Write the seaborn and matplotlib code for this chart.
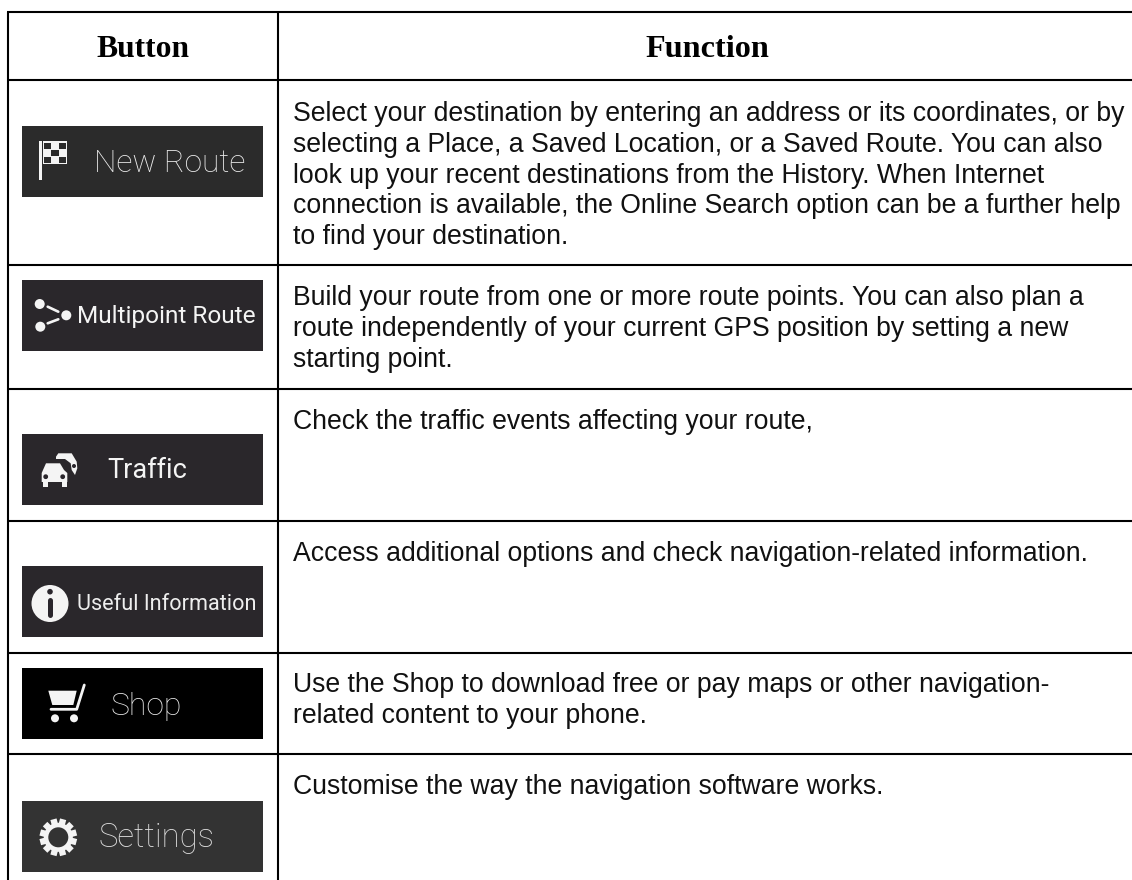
import numpy as np
import pandas as pd
import matplotlib
matplotlib.use("Agg")
import matplotlib.pyplot as plt
import seaborn as sns
from matplotlib.patches import Circle, Polygon, Rectangle, RegularPolygon

# table content
headers = ["Button", "Function"]
button_labels = ["New Route", "Multipoint Route", "Traffic", "Useful Information", "Shop", "Settings"]
button_colors = ["#2b2b2b", "#2a262c", "#2a262c", "#2a262c", "#000000", "#333333"]
label_colors = ["#ececec", "#f4f4f4", "#f4f4f4", "#eeeeee", "#e6e6e6", "#dddddd"]
descriptions = [
    ["Select your destination by entering an address or its coordinates, or by",
     "selecting a Place, a Saved Location, or a Saved Route. You can also",
     "look up your recent destinations from the History. When Internet",
     "connection is available, the Online Search option can be a further help",
     "to find your destination."],
    ["Build your route from one or more route points. You can also plan a",
     "route independently of your current GPS position by setting a new",
     "starting point."],
    ["Check the traffic events affecting your route,"],
    ["Access additional options and check navigation-related information."],
    ["Use the Shop to download free or pay maps or other navigation-",
     "related content to your phone."],
    ["Customise the way the navigation software works."],
]

# layout in pixels
rule_y = [12, 80, 265, 389, 521, 653, 754]
left_x, divider_x = 8, 278
button_left, button_width = 22, 241
button_mid = [161.5, 315.5, 469.5, 602, 703.5, 836.5]
text_base = [121, 305, 429, 561, 692, 794]
label_x = [94, 77, 107, 77, 110, 99]
label_base = [172, 323, 478, 610, 715, 847]
label_size = [22.8, 17.6, 19.5, 15.6, 23, 23.7]
label_weight = ["light", "normal", "normal", "normal", "light", "light"]
line_step = 30.8

sns.set_theme(style="white")
plt.rcParams["font.family"] = ["Liberation Sans", "DejaVu Sans"]

fig, ax = plt.subplots(figsize=(11.32, 8.8), dpi=100)
fig.subplots_adjust(0, 0, 1, 1)

# the dark buttons, as horizontal bars
buttons = pd.DataFrame({"label": button_labels, "mid": button_mid,
                        "w": [button_width] * len(button_labels)})
sns.barplot(data=buttons, x="w", y="mid", hue="label", orient="h", native_scale=True,
            palette=dict(zip(button_labels, button_colors)), left=button_left,
            width=71 / 101.5, linewidth=0, legend=False, ax=ax, dodge=False)
ax.set_xlim(0, 1132)
ax.set_ylim(880, 0)
ax.set_xlabel("")
ax.set_ylabel("")
ax.set_xticks([])
ax.set_yticks([])
sns.despine(ax=ax, left=True, bottom=True)

# table rules
ax.hlines(rule_y, left_x - 1, 1132, color="black", lw=1.5)
ax.vlines([left_x, divider_x], rule_y[0], 880, color="black", lw=1.5)

# header
ax.text(143, 57, headers[0], family="Liberation Serif", weight="bold", fontsize=22.7,
        ha="center", va="baseline", color="black")
ax.text(707, 57, headers[1], family="Liberation Serif", weight="bold", fontsize=23.2,
        ha="center", va="baseline", color="black")

# description text
for base, lines in zip(text_base, descriptions):
    for i, line in enumerate(lines):
        ax.text(293, base + i * line_step, line, fontsize=19.2, va="baseline", color="#111111")

# button labels
for lab, x, base, size, wt, col in zip(button_labels, label_x, label_base, label_size,
                                       label_weight, label_colors):
    ax.text(x, base, lab, family="Roboto", weight=wt, fontsize=size, va="baseline", color=col)

W = "#f4f4f4"
DARK = "#2a262c"

# flag
ax.add_patch(Rectangle((39.3, 141), 2.7, 39, fc=W, ec="none"))
ax.add_patch(Rectangle((43, 141), 24, 23, fc=W, ec="none"))
for sx, sy in [(44, 143.3), (58.7, 143.3), (51.3, 150), (44, 156.7), (58.7, 156.7)]:
    ax.add_patch(Rectangle((sx, sy), 7.2, 6, fc="#2b2b2b", ec="none"))

# multipoint dots
for cx, cy in [(39.7, 304), (40.3, 326.7), (66.3, 315.3)]:
    ax.add_patch(Circle((cx, cy), 5, fc=W, ec="none"))
ax.plot([47.7, 58.3], [306.7, 311.7], color=W, lw=1.9)
ax.plot([47.7, 58.3], [323.3, 319.3], color=W, lw=1.9)

# traffic cars
ax.add_patch(Polygon([[56, 456.7], [58.3, 453.3], [71.7, 453.3], [76.7, 461.7], [77.3, 468.3],
                      [75, 475], [71.7, 470], [70.7, 463.3], [65, 459], [56, 459]], fc=W, ec="none"))
ax.add_patch(Circle((74, 466), 2, fc=DARK, ec="none"))
ax.add_patch(Polygon([[46, 463.3], [60, 463.3], [64, 470], [67.3, 473], [67.3, 482], [41.7, 482],
                      [41.7, 473], [43, 470]], fc=W, ec="none"))
ax.add_patch(Rectangle((43, 481), 5, 5.7, fc=W, ec="none"))
ax.add_patch(Rectangle((62, 481), 5, 5.7, fc=W, ec="none"))
ax.add_patch(Circle((45.7, 476.7), 2.4, fc=DARK, ec="none"))
ax.add_patch(Circle((62.7, 476.7), 2.4, fc=DARK, ec="none"))

# info icon
ax.add_patch(Circle((50, 603.5), 18.5, fc=W, ec="none"))
ax.add_patch(Circle((50, 591.7), 2.8, fc=DARK, ec="none"))
ax.plot([50, 50], [600, 615], color=DARK, lw=3.6, solid_capstyle="round")

# cart
ax.add_patch(Polygon([[48.3, 690.7], [76.7, 690.7], [73.3, 705], [52.3, 705]], fc=W, ec="none"))
ax.plot([51, 76.7, 84.3], [709.3, 709.3, 685], color=W, lw=2, solid_capstyle="round")
ax.add_patch(Circle((55, 718.3), 4, fc=W, ec="none"))
ax.add_patch(Circle((74, 718.3), 4, fc=W, ec="none"))

# gear
ax.add_patch(Circle((58.3, 837.3), 14.5, fc=W, ec="none"))
for a in np.deg2rad(np.arange(15, 375, 30)):
    ax.add_patch(RegularPolygon((58.3 + 15.5 * np.cos(a), 837.3 + 15.5 * np.sin(a)), 4, radius=4.5,
                                orientation=a + np.pi / 4, fc=W, ec="none"))
ax.add_patch(Circle((58.3, 837.3), 10, fc="#333333", ec="none"))

fig.savefig("out.png", dpi=100)
